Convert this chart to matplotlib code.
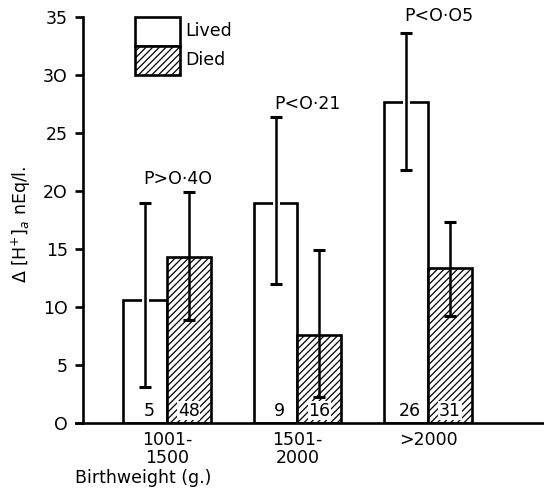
import numpy as np
import matplotlib
matplotlib.use("Agg")
import matplotlib.pyplot as plt
import matplotlib.patheffects as pe
from matplotlib.patches import Rectangle

# Values
groups = ["1001-\n1500", "1501-\n2000", ">2000"]
lived_mean = [10.6, 19.0, 27.7]
lived_low = [3.1, 12.0, 21.8]
lived_high = [19.0, 26.4, 33.6]
died_mean = [14.3, 7.6, 13.4]
died_low = [8.9, 2.2, 9.2]
died_high = [19.9, 14.9, 17.3]
lived_n = ["5", "9", "26"]
died_n = ["48", "16", "31"]
p_labels = ["P>O·4O", "P<O·21", "P<O·O5"]
p_ypos = [21.0, 27.5, 35.1]
ytick_vals = [0, 5, 10, 15, 20, 25, 30, 35]
ytick_text = ["O", "5", "1O", "15", "2O", "25", "3O", "35"]

plt.rcParams["hatch.linewidth"] = 0.9
plt.rcParams["font.family"] = "DejaVu Sans"

fig = plt.figure(figsize=(5.44, 4.92), dpi=100)
ax = fig.add_axes([76 / 544, 69 / 492, 1 - 76 / 544, 406 / 492])

x = np.arange(len(groups))
w = 0.335
lw = 1.9
fs = 12.5
hatch = "/////"

# spines first (set_position resets the ticks)
for s in ["top", "right"]:
    ax.spines[s].set_visible(False)
ax.spines["left"].set_position(("data", -0.644))
ax.spines["left"].set_linewidth(lw)
ax.spines["bottom"].set_linewidth(lw)

ax.bar(x - w / 2, lived_mean, w, facecolor="white", edgecolor="black", linewidth=lw, zorder=2)
ax.bar(x + w / 2, died_mean, w, facecolor="white", edgecolor="black", linewidth=lw,
       hatch=hatch, zorder=2)

# lived: error line breaks the top edge of the bar
m = np.array(lived_mean)
el = ax.errorbar(x - w / 2, m, yerr=[m - np.array(lived_low), np.array(lived_high) - m],
                 fmt="none", ecolor="black", elinewidth=1.8, capsize=4, capthick=2.2, zorder=3)
el[2][0].set_path_effects([pe.withStroke(linewidth=5, foreground="white")])
m = np.array(died_mean)
ax.errorbar(x + w / 2, m, yerr=[m - np.array(died_low), np.array(died_high) - m],
            fmt="none", ecolor="black", elinewidth=1.8, capsize=4, capthick=2.2, zorder=3)

box = dict(facecolor="white", edgecolor="none", pad=0.5)
for i in range(len(groups)):
    ax.text(x[i] - w / 2 + 0.03, 0.3, lived_n[i], ha="center", va="bottom", fontsize=fs, zorder=4)
    ax.text(x[i] + w / 2, 0.3, died_n[i], ha="center", va="bottom", fontsize=fs, zorder=4, bbox=box)
    ax.text(x[i] + 0.08, p_ypos[i], p_labels[i], ha="center", va="center", fontsize=fs, zorder=4)

# legend box
lx0, lx1 = -0.245, 0.10
ax.add_patch(Rectangle((lx0, 32.5), lx1 - lx0, 2.5, facecolor="white", edgecolor="black",
                       linewidth=lw, clip_on=False, zorder=2))
ax.add_patch(Rectangle((lx0, 30.0), lx1 - lx0, 2.5, facecolor="white", edgecolor="black",
                       linewidth=lw, hatch=hatch, clip_on=False, zorder=2))
ax.text(lx1 + 0.04, 33.8, "Lived", ha="left", va="center", fontsize=fs)
ax.text(lx1 + 0.04, 31.3, "Died", ha="left", va="center", fontsize=fs)

ax.set_xlim(-0.697, 2.889)
ax.set_ylim(0, 35)
ax.spines["left"].set_bounds(0, 35)
ax.set_yticks(ytick_vals)
ax.set_yticklabels(ytick_text, fontsize=fs)
ax.set_xticks(x)
ax.set_xticklabels(groups, fontsize=fs, linespacing=0.95)
ax.tick_params(axis="x", length=0, pad=6)
ax.tick_params(axis="y", direction="out", length=6, width=lw, pad=5, labelsize=fs)

fig.text(21 / 544, 1 - 224 / 492, r"$\Delta$ [H$^{+}$]$_{a}$ nEq/l.", rotation=90,
         ha="center", va="center", fontsize=fs)
fig.text(75 / 544, 1 - 478 / 492, "Birthweight (g.)", ha="left", va="center", fontsize=fs)

fig.savefig("out.png", dpi=100)
